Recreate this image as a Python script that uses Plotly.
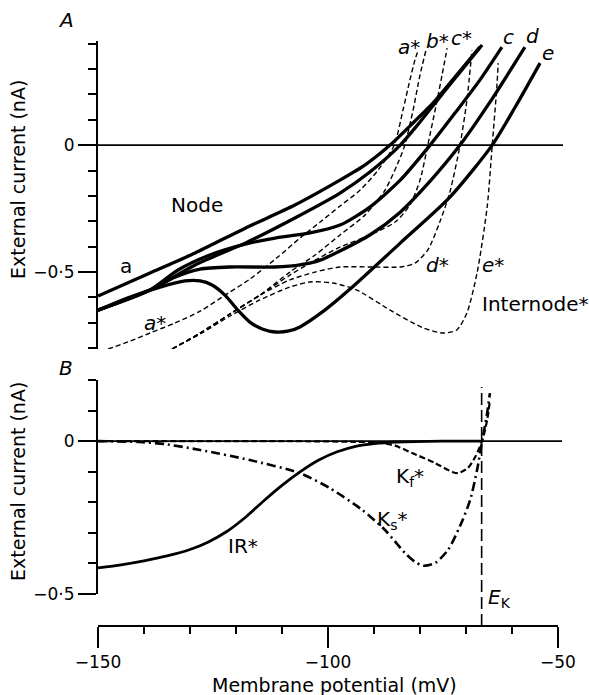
import plotly.graph_objects as go

# ---------------- Panel A: node (solid) and internode* (dashed) I-V curves -------------
a_V = [-150, -138.7, -128.9, -118.0, -107.2, -97.4, -92.0, -86.5, -82.2, -77.2, -72.4, -67.0]
a_I = [-0.594, -0.504, -0.425, -0.327, -0.236, -0.138, -0.079, 0.0, 0.075, 0.165, 0.268, 0.386]

b_V = [-150, -138.7, -128.9, -118.0, -107.2, -97.4, -90.9, -84.3, -80.0, -75.7, -71.3, -66.5]
b_I = [-0.650, -0.571, -0.472, -0.386, -0.287, -0.189, -0.106, 0.0, 0.091, 0.189, 0.287, 0.394]

c_V = [-150, -138.7, -132.6, -125.7, -118.0, -111.5, -103.9, -97.4, -90.9, -84.3, -77.8, -72.4, -67.0, -62.2]
c_I = [-0.650, -0.571, -0.492, -0.433, -0.390, -0.366, -0.346, -0.315, -0.244, -0.138, 0.0, 0.126, 0.256, 0.386]

d_V = [-150, -138.7, -133.3, -127.8, -121.3, -111.5, -106.1, -101.7, -97.4, -90.9, -84.3, -77.8, -71.3, -64.8, -57.2]
d_I = [-0.650, -0.571, -0.520, -0.488, -0.480, -0.480, -0.472, -0.453, -0.417, -0.354, -0.264, -0.142, 0.0, 0.169, 0.386]

e_V = [-150, -143.0, -136.5, -131.1, -127.8, -125.2, -122.4, -119.6, -117.0, -114.3, -111.5, -108.5,
       -106.1, -100.7, -95.2, -84.3, -73.5, -64.3, -59.3, -53.9]
e_I = [-0.650, -0.598, -0.559, -0.535, -0.535, -0.551, -0.591, -0.650, -0.697, -0.724, -0.736, -0.732,
       -0.716, -0.650, -0.567, -0.386, -0.205, 0.0, 0.150, 0.323]

as_V = [-147.8, -143.0, -138.7, -133.3, -127.8, -121.7, -117.0, -110.9, -106.1, -101.7, -97.4, -93.0,
        -89.1, -85.6, -83.7, -82.2, -81.1, -80.4]
as_I = [-0.803, -0.772, -0.740, -0.701, -0.654, -0.583, -0.528, -0.441, -0.366, -0.303, -0.240, -0.177,
        -0.098, 0.0, 0.138, 0.256, 0.335, 0.374]

bs_V = [-133.9, -127.8, -121.3, -114.8, -108.3, -102.8, -97.4, -92.0, -87.6, -85.0, -83.3, -81.5, -80.0, -78.7]
bs_I = [-0.803, -0.740, -0.665, -0.591, -0.500, -0.433, -0.354, -0.276, -0.177, -0.079, 0.0, 0.138, 0.276, 0.374]

cs_V = [-133.9, -127.8, -121.3, -114.8, -108.3, -102.8, -97.4, -90.9, -85.4, -82.2, -80.0, -78.3, -76.5, -75.2, -74.1]
cs_I = [-0.803, -0.740, -0.665, -0.591, -0.512, -0.453, -0.402, -0.354, -0.303, -0.236, -0.138, 0.0, 0.157, 0.276, 0.382]

ds_V = [-133.9, -127.8, -121.3, -114.8, -108.3, -102.8, -97.4, -90.9, -84.3, -81.1, -78.3, -75.7, -73.5, -71.3, -69.8, -68.7]
ds_I = [-0.803, -0.740, -0.665, -0.591, -0.531, -0.500, -0.480, -0.480, -0.480, -0.465, -0.413, -0.303, -0.185, 0.0, 0.177, 0.374]

es_V = [-133.9, -127.8, -121.3, -114.8, -108.3, -103.9, -98.9, -93.7, -86.5, -79.3, -75.0, -72.0, -69.8,
        -67.6, -65.4, -64.3, -63.3, -63.0]
es_I = [-0.803, -0.744, -0.673, -0.610, -0.559, -0.539, -0.543, -0.571, -0.650, -0.720, -0.740, -0.728, -0.661,
        -0.504, -0.244, 0.0, 0.228, 0.323]

# ---------------- Panel B: component currents ----------------------------------------------
ir_V = [-150, -145, -140, -135, -130, -126, -122, -118, -114, -110, -106, -102, -98, -94, -90, -85, -75, -66.5]
ir_I = [-0.415, -0.405, -0.392, -0.376, -0.355, -0.330, -0.296, -0.250, -0.196, -0.145, -0.100, -0.062,
        -0.035, -0.017, -0.008, -0.003, 0.0, 0.0]

ks_V = [-150, -140.9, -135.4, -127.8, -117.0, -106.1, -99.6, -92.6, -87.6, -83.3, -81.1, -79.3, -76.7,
        -73.9, -71.3, -69.1, -67.6, -66.5, -65.4, -64.8]
ks_I = [0.0, -0.003, -0.010, -0.029, -0.062, -0.105, -0.154, -0.225, -0.291, -0.366, -0.395, -0.408, -0.399,
        -0.356, -0.278, -0.193, -0.095, 0.0, 0.092, 0.157]

kf_V = [-150, -110, -95.2, -89.1, -85.4, -81.7, -76.7, -73.0, -71.7, -69.6, -68.0, -66.5, -65.4, -64.8]
kf_I = [0.0, 0.0, -0.002, -0.005, -0.015, -0.039, -0.072, -0.101, -0.105, -0.088, -0.052, 0.0, 0.069, 0.134]

E_K = -66.6

FONT = "DejaVu Sans"
fig = go.Figure()

def add(x, y, ax, width, dash="solid"):
    fig.add_trace(go.Scatter(x=x, y=y, mode="lines", xaxis="x", yaxis=ax,
                             line=dict(color="black", width=width, dash=dash, shape="spline", smoothing=0.7),
                             showlegend=False, hoverinfo="skip"))

for V, I in [(as_V, as_I), (bs_V, bs_I), (cs_V, cs_I), (ds_V, ds_I), (es_V, es_I)]:
    add(V, I, "y", 1.4, "5px,3px")
for V, I in [(a_V, a_I), (b_V, b_I), (c_V, c_I), (d_V, d_I), (e_V, e_I)]:
    add(V, I, "y", 3.3)

add(ir_V, ir_I, "y2", 2.8)
add(ks_V, ks_I, "y2", 2.6, "9px,4px,2px,4px")
add(kf_V, kf_I, "y2", 2.2, "6px,3px")

# geometry (plot area 98..558 x, 41..626 y)
W, H = 589, 695
L, R, T, B = 98, 31, 41, 69
ph = H - T - B
def py(p):
    return (H - B - p) / ph
def px(p):
    return (p - L) / (W - L - R)

common_y = dict(showline=True, linewidth=2, linecolor="black", ticks="outside", ticklen=18, tickwidth=2,
                tickcolor="black", dtick=0.5, tick0=0, showgrid=False, zeroline=False,
                tickfont=dict(family=FONT, size=17, color="black"),
                minor=dict(dtick=0.1, tick0=0, ticks="outside", ticklen=8, tickwidth=2, tickcolor="black", showgrid=False))

fig.update_layout(
    width=W, height=H, margin=dict(l=L, r=R, t=T, b=B),
    paper_bgcolor="white", plot_bgcolor="white",
    separators="·,",
    xaxis=dict(range=[-150, -50], anchor="free", position=0, showline=True, linewidth=2, linecolor="black",
               ticks="outside", ticklen=21, tickwidth=2, tickcolor="black", dtick=50, tick0=-150,
               showgrid=False, zeroline=False, tickfont=dict(family=FONT, size=17, color="black"),
               minor=dict(dtick=10, ticks="outside", ticklen=7, tickwidth=2, tickcolor="black", showgrid=False)),
    yaxis=dict(domain=[py(349), 1.0], range=[-0.803, 0.41], anchor="x", **common_y),
    yaxis2=dict(domain=[py(594), py(380)], range=[-0.5005, 0.2], anchor="x", **common_y),
)

# zero lines and E_K marker
fig.add_shape(type="line", xref="paper", yref="y", x0=0, x1=px(563), y0=0, y1=0,
              line=dict(color="black", width=1.6))
fig.add_shape(type="line", xref="paper", yref="y2", x0=0, x1=px(562), y0=0, y1=0,
              line=dict(color="black", width=1.6))
fig.add_shape(type="line", xref="x", yref="paper", x0=E_K, x1=E_K, y0=0, y1=py(387),
              line=dict(color="black", width=1.6, dash="12px,5px"))

def ann(text, x, y, xref="x", yref="y", size=20, angle=0):
    fig.add_annotation(text=text, x=x, y=y, xref=xref, yref=yref, showarrow=False,
                       font=dict(family=FONT, size=size, color="black"), textangle=angle,
                       xanchor="center", yanchor="middle")

ann("<i>A</i>", px(66), py(20), "paper", "paper")
ann("<i>B</i>", px(66), py(368), "paper", "paper")
ann("External current (nA)", px(18), py(180), "paper", "paper", 19, -90)
ann("External current (nA)", px(18), py(482), "paper", "paper", 19, -90)
ann("Membrane potential (mV)", px(334), py(685), "paper", "paper", 19)

ann("Node", -128.5, -0.236)
ann("a", -143.9, -0.476)
ann("<i>a*</i>", -137.6, -0.701)
ann("<i>a*</i>", px(409), py(47), "paper", "paper")
ann("<i>b*</i>", px(437), py(41), "paper", "paper")
ann("<i>c*</i>", px(461), py(38), "paper", "paper")
ann("<i>c</i>", px(508), py(37), "paper", "paper")
ann("<i>d</i>", px(532), py(36), "paper", "paper")
ann("<i>e</i>", px(548), py(53), "paper", "paper")
ann("<i>d*</i>", -76.3, -0.472)
ann("<i>e*</i>", -64.1, -0.472)
ann("Internode*", -55.0, -0.626)

ann("IR*", -118.5, -0.343, "x", "y2")
ann("K<sub>f</sub>*", -82.2, -0.118, "x", "y2")
ann("K<sub>s</sub>*", -86.1, -0.258, "x", "y2")
ann("<i>E</i><sub>K</sub>", px(499), py(598), "paper", "paper")

fig.write_html("out.html")
